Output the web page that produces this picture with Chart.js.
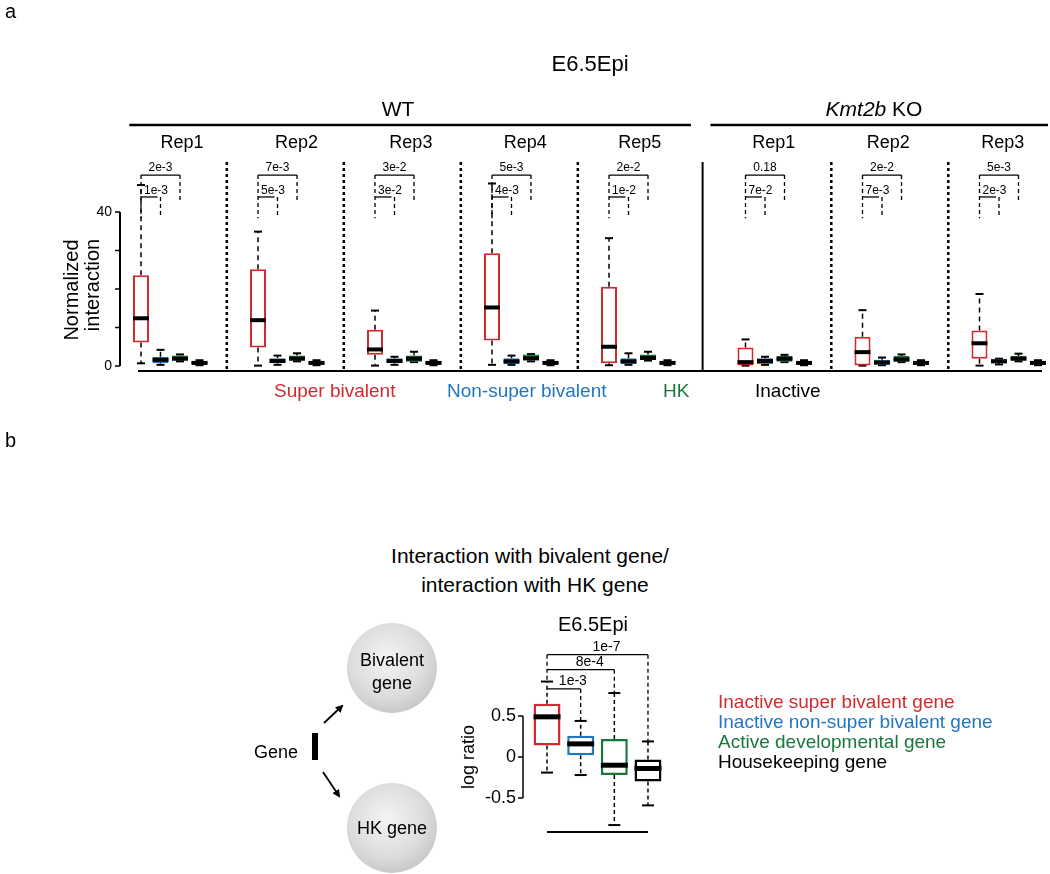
<!DOCTYPE html>
<html>
<head>
<meta charset="utf-8">
<script src="https://cdn.jsdelivr.net/npm/chart.js@4.4.0/dist/chart.umd.min.js"></script>
<style>
  body { margin: 0; background: #fff; font-family: "Liberation Sans", Arial, sans-serif; }
  #page { position: relative; width: 1050px; height: 874px; overflow: hidden; }
  canvas { position: absolute; }
  .t { position: absolute; white-space: nowrap; color: #000; }
  svg { position: absolute; left: 0; top: 0; }
</style>
</head>
<body>
<div id="page">
  <canvas id="topChart" width="1050" height="440" style="left:0;top:0"></canvas>
  <canvas id="logChart" width="300" height="260" style="left:440px;top:600px"></canvas>

  <div class="t" style="left:5px;top:429px;font-size:20px">b</div>
  <div class="t" style="left:330px;width:400px;text-align:center;top:544px;font-size:21px;line-height:24px">Interaction with bivalent gene/</div>
  <div class="t" style="left:335px;width:400px;text-align:center;top:573px;font-size:21px;line-height:24px">interaction with HK gene</div>

  <svg width="1050" height="874">
    <defs>
      <radialGradient id="ball" cx="45%" cy="40%" r="60%">
        <stop offset="0%" stop-color="#f4f4f4"/>
        <stop offset="70%" stop-color="#dcdcdc"/>
        <stop offset="100%" stop-color="#c9c9c9"/>
      </radialGradient>
      <marker id="head" markerWidth="8" markerHeight="8" refX="6" refY="4" orient="auto" markerUnits="userSpaceOnUse">
        <path d="M0,0 L8,4 L0,8 Z" fill="#000"/>
      </marker>
    </defs>
    <circle cx="392" cy="668" r="45" fill="url(#ball)"/>
    <circle cx="392" cy="828" r="45" fill="url(#ball)"/>
    <g font-family="Liberation Sans, Arial, sans-serif" font-size="18" text-anchor="middle" fill="#000">
      <text x="392" y="666">Bivalent</text>
      <text x="392" y="689">gene</text>
      <text x="392" y="834">HK gene</text>
      <text x="276" y="758">Gene</text>
    </g>
    <rect x="312" y="733" width="6" height="27" fill="#000"/>
    <line x1="324" y1="723" x2="342" y2="706" stroke="#000" stroke-width="1.8" marker-end="url(#head)"/>
    <line x1="323" y1="772" x2="339" y2="796" stroke="#000" stroke-width="1.8" marker-end="url(#head)"/>
  </svg>

  <div class="t" style="left:718px;top:692px;font-size:19px;line-height:20px">
    <div style="color:#d12a2f">Inactive super bivalent gene</div>
    <div style="color:#1f77c4">Inactive non-super bivalent gene</div>
    <div style="color:#18773a">Active developmental gene</div>
    <div style="color:#000">Housekeeping gene</div>
  </div>
</div>

<script>
const FONT = '"Liberation Sans", Arial, sans-serif';
const RED = "#d12a2f", BLUE = "#1f77c4", GREEN = "#18773a", BLACK = "#000";

/* ---------- panel a data (normalized interaction) ---------- */
const repLabels = ["Rep1", "Rep2", "Rep3", "Rep4", "Rep5", "Rep1", "Rep2", "Rep3"];
const WT_REPS = 5;

const superLo  = [0.7, 0.1, 0.1, 0.3, 0.2, 0.1, 0.1, 0.1];
const superQ1  = [6.1, 4.8, 2.9, 6.6, 0.7, 0.1, 0.1, 1.9];
const superMed = [12.4, 11.9, 4.3, 15.2, 5.0, 1.0, 3.6, 5.9];
const superQ3  = [23.6, 25.1, 9.4, 29.3, 20.6, 4.8, 7.6, 9.2];
const superHi  = [47.0, 34.9, 14.4, 47.4, 33.2, 6.9, 14.5, 18.7];

const nonLo  = [0.3, 0.3, 0.3, 0.3, 0.3, 0.3, 0.2, 0.4];
const nonQ1  = [0.7, 0.7, 0.7, 0.5, 0.5, 0.5, 0.3, 0.7];
const nonMed = [1.6, 1.3, 1.3, 1.2, 1.2, 1.3, 0.9, 1.2];
const nonQ3  = [2.4, 2.0, 2.0, 2.0, 2.0, 2.0, 1.6, 1.8];
const nonHi  = [4.2, 2.7, 2.4, 2.7, 3.3, 2.4, 2.2, 1.9];

const hkLo  = [1.2, 1.2, 1.0, 1.2, 1.4, 1.0, 1.0, 1.2];
const hkQ1  = [1.4, 1.4, 1.1, 1.4, 1.6, 1.1, 1.1, 1.4];
const hkMed = [1.9, 1.9, 1.9, 2.0, 2.1, 1.9, 1.7, 1.9];
const hkQ3  = [2.7, 2.7, 2.7, 3.0, 3.0, 2.6, 2.6, 2.6];
const hkHi  = [3.0, 3.3, 3.7, 3.1, 3.7, 2.9, 3.0, 3.2];

const inLo  = [0.2, 0.2, 0.2, 0.2, 0.2, 0.2, 0.2, 0.2];
const inQ1  = [0.4, 0.4, 0.4, 0.4, 0.4, 0.4, 0.4, 0.4];
const inMed = [0.8, 0.8, 0.8, 0.8, 0.8, 0.8, 0.8, 0.8];
const inQ3  = [1.3, 1.3, 1.3, 1.3, 1.3, 1.3, 1.3, 1.3];
const inHi  = [1.5, 1.5, 1.5, 1.5, 1.5, 1.5, 1.5, 1.5];

const pOuter = ["2e-3", "7e-3", "3e-2", "5e-3", "2e-2", "0.18", "2e-2", "5e-3"];
const pInner = ["1e-3", "5e-3", "3e-2", "4e-3", "1e-2", "7e-2", "7e-3", "2e-3"];

const yTicks = [0, 10, 20, 30, 40];
const yTickLabels = ["0", "", "", "", "40"];

/* ---------- panel b data (log ratio) ---------- */
const logCats = ["Inactive super bivalent", "Inactive non-super bivalent", "Active developmental", "Housekeeping"];
const logLo  = [-0.19, -0.22, -0.83, -0.59];
const logQ1  = [0.14, 0.02, -0.22, -0.30];
const logMed = [0.49, 0.16, -0.10, -0.14];
const logQ3  = [0.65, 0.26, 0.22, -0.03];
const logHi  = [0.92, 0.44, 0.78, 0.19];
const logP = ["1e-3", "8e-4", "1e-7"];
const logTicks = [0.5, 0, -0.5];

/* ---------- build box table ---------- */
const cats = [
  { color: RED,   fill: "#fff", lo: superLo, q1: superQ1, med: superMed, q3: superQ3, hi: superHi },
  { color: BLUE,  fill: BLUE,   lo: nonLo,   q1: nonQ1,   med: nonMed,   q3: nonQ3,   hi: nonHi },
  { color: GREEN, fill: GREEN,  lo: hkLo,    q1: hkQ1,    med: hkMed,    q3: hkQ3,    hi: hkHi },
  { color: BLACK, fill: BLACK,  lo: inLo,    q1: inQ1,    med: inMed,    q3: inQ3,    hi: inHi }
];
const slotBase = (g) => g * 6 + (g >= WT_REPS ? 1 : 0);
const slotCount = slotBase(repLabels.length - 1) + cats.length;

const boxes = [];
const boxData = new Array(slotCount).fill(null);
const boxFill = new Array(slotCount).fill("rgba(0,0,0,0)");
const boxEdge = new Array(slotCount).fill("rgba(0,0,0,0)");
repLabels.forEach((_, g) => {
  cats.forEach((c, k) => {
    const slot = slotBase(g) + k;
    boxes.push({ slot, lo: c.lo[g], q1: c.q1[g], med: c.med[g], q3: c.q3[g], hi: c.hi[g] });
    boxData[slot] = [c.q1[g], c.q3[g]];
    boxFill[slot] = c.fill;
    boxEdge[slot] = c.color;
  });
});

/* ---------- helpers ---------- */
function seg(ctx, x1, y1, x2, y2) {
  ctx.beginPath(); ctx.moveTo(x1, y1); ctx.lineTo(x2, y2); ctx.stroke();
}
function text(ctx, s, x, y, size, align, color, extra) {
  ctx.font = (extra || "") + size + "px " + FONT;
  ctx.fillStyle = color || "#000";
  ctx.textAlign = align || "center";
  ctx.textBaseline = "middle";
  ctx.fillText(s, x, y);
}
function whiskers(ctx, x, y, list, cap, dash) {
  ctx.save();
  ctx.strokeStyle = "#000";
  ctx.lineWidth = 1.5;
  list.forEach(b => {
    const px = x.getPixelForValue(b.slot);
    ctx.setLineDash(dash);
    seg(ctx, px, y.getPixelForValue(b.q3), px, y.getPixelForValue(b.hi));
    seg(ctx, px, y.getPixelForValue(b.q1), px, y.getPixelForValue(b.lo));
    ctx.setLineDash([]);
    ctx.lineWidth = 2;
    seg(ctx, px - cap, y.getPixelForValue(b.hi), px + cap, y.getPixelForValue(b.hi));
    seg(ctx, px - cap, y.getPixelForValue(b.lo), px + cap, y.getPixelForValue(b.lo));
    ctx.lineWidth = 1.5;
  });
  ctx.restore();
}
function medians(chart, list, thick) {
  const { ctx, scales: { x, y } } = chart;
  const bars = chart.getDatasetMeta(0).data;
  ctx.save();
  ctx.fillStyle = "#000";
  list.forEach(b => {
    const w = bars[b.slot].width;
    const px = x.getPixelForValue(b.slot);
    ctx.fillRect(px - w / 2, y.getPixelForValue(b.med) - thick / 2, w, thick);
  });
  ctx.restore();
}

/* ---------- panel a decorations ---------- */
const topPanel = {
  id: "topPanel",
  beforeDatasetsDraw(chart) {
    const { ctx, scales: { x, y } } = chart;
    whiskers(ctx, x, y, boxes, 4, [5, 4]);
  },
  afterDatasetsDraw(chart) {
    medians(chart, boxes, 4);
  },
  afterDraw(chart) {
    const { ctx, scales: { x, y } } = chart;
    const step = x.getPixelForValue(1) - x.getPixelForValue(0);
    const sx = (s) => x.getPixelForValue(0) + s * step;
    ctx.save();
    ctx.strokeStyle = "#000";

    text(ctx, "a", 5, 12, 20, "left");
    text(ctx, "E6.5Epi", 590, 65, 22);
    text(ctx, "WT", 398, 110, 21);
    ctx.font = "italic 21px " + FONT;
    const wK = ctx.measureText("Kmt2b").width;
    ctx.font = "21px " + FONT;
    const wR = ctx.measureText(" KO").width;
    const k0 = 874 - (wK + wR) / 2;
    text(ctx, "Kmt2b", k0, 110, 21, "left", "#000", "italic ");
    text(ctx, " KO", k0 + wK, 110, 21, "left");

    // group header rules
    ctx.lineWidth = 2.5;
    seg(ctx, sx(-0.6), 125, sx(28.2), 125);
    seg(ctx, sx(29.2), 125, 1048, 125);

    // rep labels
    repLabels.forEach((r, g) => text(ctx, r, sx(slotBase(g) + 2.1 - 0.13 * g), 143, 18));

    // separators
    const yTop = 162, yBot = y.bottom - 1;
    ctx.lineWidth = 2.5;
    ctx.setLineDash([3, 3]);
    repLabels.forEach((_, g) => {
      if (g === WT_REPS - 1 || g === repLabels.length - 1) return;
      const s = slotBase(g) + 4.4;
      seg(ctx, sx(s), yTop, sx(s), yBot);
    });
    ctx.setLineDash([]);
    ctx.lineWidth = 2;
    const solid = (slotBase(WT_REPS - 1) + 3 + slotBase(WT_REPS)) / 2 - 0.2;
    seg(ctx, sx(solid), yTop, sx(solid), yBot);

    // x baseline
    ctx.lineWidth = 2;
    seg(ctx, 138, y.bottom, 1042, y.bottom);

    // y axis
    const ax = 120;
    seg(ctx, ax, y.getPixelForValue(0), ax, y.getPixelForValue(40));
    ctx.lineWidth = 1.5;
    yTicks.forEach((t, i) => {
      const py = y.getPixelForValue(t);
      seg(ctx, ax - 5, py, ax, py);
      if (yTickLabels[i]) text(ctx, yTickLabels[i], ax - 8, py, 14, "right");
    });
    ctx.save();
    ctx.translate(72, 290); ctx.rotate(-Math.PI / 2);
    text(ctx, "Normalized", 0, 0, 20);
    ctx.restore();
    ctx.save();
    ctx.translate(93, 285); ctx.rotate(-Math.PI / 2);
    text(ctx, "interaction", 0, 0, 20);
    ctx.restore();

    // category labels
    text(ctx, "Super bivalent", 274, 392, 19, "left", RED);
    text(ctx, "Non-super bivalent", 447, 392, 19, "left", BLUE);
    text(ctx, "HK", 663, 392, 19, "left", GREEN);
    text(ctx, "Inactive", 755, 392, 19, "left", BLACK);

    // significance brackets
    repLabels.forEach((_, g) => {
      const b = slotBase(g);
      const xr = x.getPixelForValue(b), xb = x.getPixelForValue(b + 1), xg = x.getPixelForValue(b + 2);
      const yo = y.getPixelForValue(49.6), yi = y.getPixelForValue(43.9);
      ctx.lineWidth = 1.3;
      seg(ctx, xr, yo, xg, yo);
      seg(ctx, xr, yi, xb - 3, yi);
      ctx.setLineDash([4, 3]);
      seg(ctx, xr, yo, xr, y.getPixelForValue(38.4));
      seg(ctx, xg, yo, xg, y.getPixelForValue(43.1));
      seg(ctx, xb, yi, xb, y.getPixelForValue(39));
      ctx.setLineDash([]);
      text(ctx, pOuter[g], (xr + xg) / 2, yo - 7, 12);
      text(ctx, pInner[g], xr + 3, yi - 6, 12, "left");
    });
    ctx.restore();
  }
};

new Chart(document.getElementById("topChart"), {
  type: "bar",
  data: {
    labels: boxData.map((_, i) => String(i)),
    datasets: [{
      data: boxData,
      backgroundColor: boxFill,
      borderColor: boxEdge,
      borderWidth: 2,
      borderSkipped: false,
      barPercentage: 0.82,
      categoryPercentage: 1
    }]
  },
  options: {
    responsive: false,
    animation: false,
    layout: { padding: { left: 131.25, right: 2.25, top: 140, bottom: 69 } },
    scales: {
      x: { display: false },
      y: { display: false, min: -1.3, max: 58.7 }
    },
    plugins: { legend: { display: false }, tooltip: { enabled: false } }
  },
  plugins: [topPanel]
});

/* ---------- panel b ---------- */
const logBoxes = logCats.map((_, i) => ({ slot: i, lo: logLo[i], q1: logQ1[i], med: logMed[i], q3: logQ3[i], hi: logHi[i] }));
const logColors = [RED, BLUE, GREEN, BLACK];
const bracketLevels = [0.83, 1.065, 1.248];

const logPanel = {
  id: "logPanel",
  beforeDatasetsDraw(chart) {
    const { ctx, scales: { x, y } } = chart;
    whiskers(ctx, x, y, logBoxes, 6, [4, 3]);
  },
  afterDatasetsDraw(chart) {
    medians(chart, logBoxes, 5);
  },
  afterDraw(chart) {
    const { ctx, scales: { x, y } } = chart;
    const ox = -440, oy = -600; // page -> canvas
    ctx.save();
    ctx.strokeStyle = "#000";
    text(ctx, "E6.5Epi", 593 + ox, 625 + oy, 20);

    const ax = 523 + ox;
    ctx.lineWidth = 1.5;
    seg(ctx, ax, y.getPixelForValue(0.5), ax, y.getPixelForValue(-0.5));
    logTicks.forEach(t => {
      const py = y.getPixelForValue(t);
      seg(ctx, ax - 5, py, ax, py);
      text(ctx, String(t), ax - 7, py, 18, "right");
    });
    ctx.save();
    ctx.translate(469 + ox, 757 + oy); ctx.rotate(-Math.PI / 2);
    text(ctx, "log ratio", 0, 0, 18);
    ctx.restore();

    const x0 = x.getPixelForValue(0);
    ctx.lineWidth = 2;
    seg(ctx, x0, y.bottom - 7, x.getPixelForValue(3), y.bottom - 7);

    ctx.lineWidth = 1.3;
    logP.forEach((p, i) => {
      const xe = x.getPixelForValue(i + 1);
      const yl = y.getPixelForValue(bracketLevels[i]);
      seg(ctx, x0, yl, xe, yl);
      ctx.setLineDash([4, 3]);
      seg(ctx, xe, yl, xe, y.getPixelForValue(logHi[i + 1]));
      ctx.setLineDash([]);
      text(ctx, p, (x0 + xe) / 2 + 9, yl - 8, 14);
    });
    ctx.setLineDash([4, 3]);
    seg(ctx, x0, y.getPixelForValue(bracketLevels[2]), x0, y.getPixelForValue(logHi[0]));
    ctx.restore();
  }
};

new Chart(document.getElementById("logChart"), {
  type: "bar",
  data: {
    labels: logCats,
    datasets: [{
      data: logCats.map((_, i) => [logQ1[i], logQ3[i]]),
      backgroundColor: "#fff",
      borderColor: logColors,
      borderWidth: 2.5,
      borderSkipped: false,
      barPercentage: 0.8,
      categoryPercentage: 1
    }]
  },
  options: {
    responsive: false,
    animation: false,
    layout: { padding: { left: 90.2, right: 75.2, top: 42.2, bottom: 21 } },
    scales: {
      x: { display: false },
      y: { display: false, min: -1.0, max: 1.4 }
    },
    plugins: { legend: { display: false }, tooltip: { enabled: false } }
  },
  plugins: [logPanel]
});
</script>
</body>
</html>
